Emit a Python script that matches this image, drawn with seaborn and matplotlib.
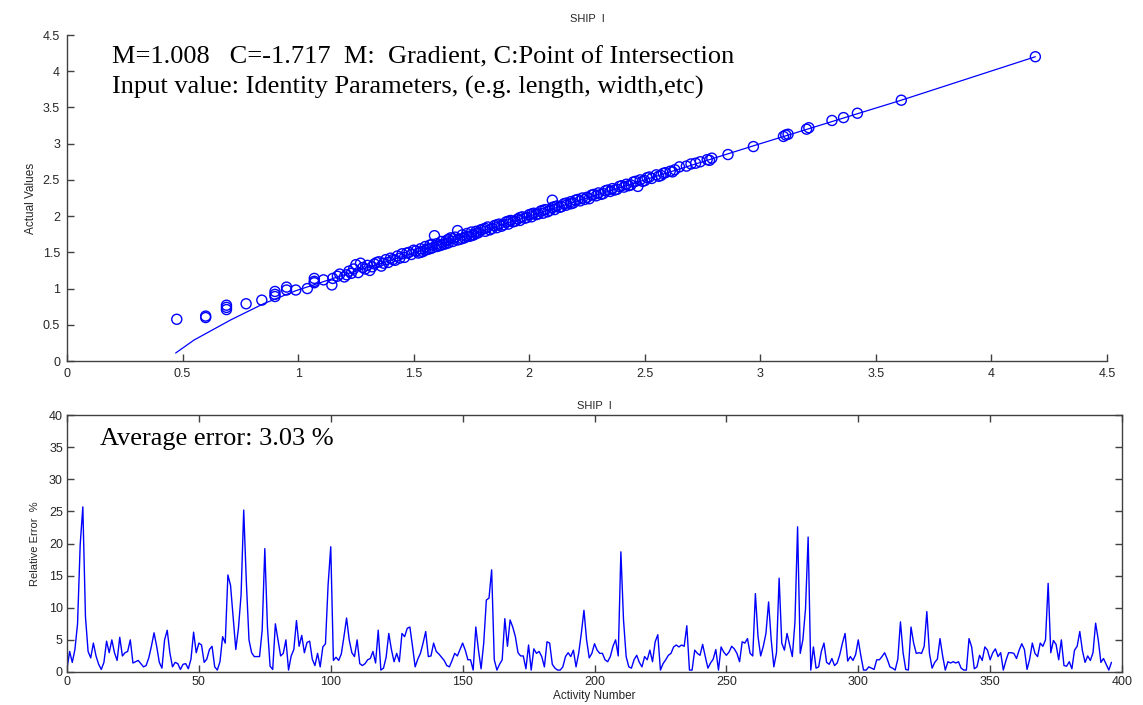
import numpy as np
import pandas as pd
import matplotlib
matplotlib.use("Agg")
import matplotlib.pyplot as plt
import seaborn as sns

# ---------------- data: top panel (predicted vs actual) ----------------
pred_vals = [0.475, 0.60, 0.60, 0.69, 0.69, 0.69, 0.775, 0.843, 0.90, 0.90, 0.90, 0.95, 0.95, 0.99,
             1.04, 1.07, 1.07, 1.07, 1.11, 1.146, 1.15, 1.17, 1.18, 1.20, 1.22, 1.24, 1.25, 1.26, 1.27,
             1.28, 1.30, 1.31, 1.33, 1.35, 1.36, 1.38, 1.39, 1.40, 1.42, 1.43, 1.45, 1.46, 1.48, 1.49,
             1.50, 1.52, 1.53, 1.54, 1.55, 1.56, 1.57, 1.58, 1.59, 1.60, 1.61, 1.62, 1.63, 1.64, 1.65,
             1.66, 1.67, 1.68, 1.69, 1.70, 1.71, 1.72, 1.73, 1.74, 1.75, 1.76, 1.77, 1.78, 1.80, 1.81,
             1.82, 1.83, 1.85, 1.86, 1.87, 1.88, 1.90, 1.91, 1.92, 1.93, 1.95, 1.96, 1.97, 1.98, 2.00,
             2.01, 2.02, 2.03, 2.05, 2.06, 2.07, 2.08, 2.10, 2.10, 2.11, 2.12, 2.14, 2.15, 2.16, 2.18,
             2.19, 2.20, 2.22, 2.23, 2.25, 2.26, 2.28, 2.29, 2.30, 2.32, 2.33, 2.35, 2.36, 2.38, 2.39,
             2.41, 2.42, 2.44, 2.45, 2.47, 2.48, 2.50, 2.51, 2.53, 2.55, 2.57, 2.59, 2.61, 2.63, 2.65,
             2.68, 2.70, 2.72, 2.77, 2.79, 2.86, 2.97, 3.10, 3.11, 3.12, 3.20, 3.21, 3.31, 3.36, 3.42,
             3.61, 4.19,
             1.21, 1.23, 1.29, 1.32, 1.34, 1.37, 1.41, 1.44, 1.47, 1.51, 1.53, 1.55, 1.57, 1.58, 1.60,
             1.62, 1.64, 1.65, 1.67, 1.69, 1.71, 1.73, 1.75, 1.77, 1.79, 1.81, 1.84, 1.86, 1.89, 1.91,
             1.94, 1.96, 1.99, 2.01, 2.04, 2.06, 2.09, 2.11, 2.13, 2.16, 2.18, 2.21, 2.24, 2.27, 2.31,
             2.34, 2.37, 2.40, 2.43, 2.46, 2.49, 2.52, 2.56, 2.58, 2.62, 2.74, 2.78]
actual_vals = [0.576, 0.62, 0.60, 0.77, 0.74, 0.71, 0.79, 0.84, 0.96, 0.92, 0.89, 1.02, 0.98, 0.98,
               1.00, 1.14, 1.10, 1.08, 1.12, 1.05, 1.14, 1.17, 1.20, 1.16, 1.24, 1.27, 1.33, 1.22, 1.35,
               1.29, 1.32, 1.25, 1.34, 1.37, 1.31, 1.40, 1.36, 1.42, 1.39, 1.45, 1.48, 1.43, 1.50, 1.47,
               1.53, 1.49, 1.55, 1.51, 1.58, 1.54, 1.60, 1.56, 1.73, 1.62, 1.59, 1.65, 1.61, 1.66, 1.63,
               1.70, 1.65, 1.71, 1.80, 1.68, 1.74, 1.70, 1.76, 1.72, 1.78, 1.74, 1.79, 1.77, 1.82, 1.79,
               1.85, 1.81, 1.87, 1.84, 1.89, 1.86, 1.92, 1.89, 1.94, 1.92, 1.96, 1.94, 1.99, 1.97, 2.02,
               1.99, 2.04, 2.02, 2.07, 2.04, 2.09, 2.06, 2.22, 2.12, 2.09, 2.14, 2.13, 2.17, 2.15, 2.20,
               2.18, 2.22, 2.21, 2.25, 2.26, 2.24, 2.30, 2.28, 2.32, 2.31, 2.35, 2.34, 2.38, 2.37, 2.41,
               2.40, 2.44, 2.43, 2.47, 2.41, 2.50, 2.49, 2.53, 2.52, 2.57, 2.56, 2.60, 2.62, 2.64, 2.68,
               2.69, 2.72, 2.73, 2.78, 2.80, 2.85, 2.96, 3.10, 3.12, 3.13, 3.20, 3.22, 3.32, 3.36, 3.42,
               3.60, 4.20,
               1.19, 1.21, 1.27, 1.30, 1.36, 1.35, 1.40, 1.42, 1.49, 1.52, 1.50, 1.53, 1.55, 1.61, 1.58,
               1.60, 1.62, 1.68, 1.69, 1.67, 1.69, 1.72, 1.73, 1.76, 1.81, 1.83, 1.83, 1.88, 1.88, 1.93,
               1.93, 1.98, 1.98, 2.03, 2.03, 2.08, 2.08, 2.13, 2.12, 2.18, 2.17, 2.23, 2.23, 2.29, 2.30,
               2.36, 2.36, 2.42, 2.42, 2.48, 2.48, 2.54, 2.55, 2.59, 2.61, 2.75, 2.77]

fit_x = [0.47, 0.55, 0.71, 0.85, 0.99, 1.2, 1.5, 2.0, 2.5, 3.0, 3.61, 4.19]
fit_y = [0.11, 0.29, 0.57, 0.79, 0.97, 1.19, 1.49, 2.0, 2.5, 3.0, 3.60, 4.20]

# ---------------- data: bottom panel (relative error per activity) ----------------
rel_error = [
    0.5, 3.2, 1.5, 3.5, 7.5, 19.8, 25.7, 8.6, 3.2, 2.2,
    4.5, 2.5, 1.2, 0.4, 1.5, 4.8, 3.0, 5.0, 3.0, 1.8,
    5.4, 2.5, 3.0, 3.2, 5.0, 1.4, 1.6, 1.8, 1.3, 0.8,
    1.0, 2.2, 4.0, 6.1, 4.0, 1.5, 0.6, 5.0, 6.5, 3.0,
    0.8, 1.5, 1.3, 0.4, 1.2, 1.3, 0.5, 2.0, 6.2, 3.0,
    4.5, 4.2, 1.5, 2.0, 3.5, 4.0, 0.8, 0.3, 1.6, 5.5,
    4.5, 15.1, 13.5, 8.5, 3.5, 6.8, 12.0, 25.2, 14.0, 5.0,
    3.0, 2.4, 2.4, 2.4, 6.5, 19.2, 7.0, 0.9, 0.4, 7.5,
    5.0, 2.5, 2.9, 5.0, 0.3, 2.5, 3.5, 8.0, 4.0, 5.7,
    3.0, 4.6, 4.8, 2.0, 1.0, 2.9, 0.8, 3.9, 4.4, 13.6,
    19.5, 1.8, 2.3, 1.8, 2.8, 5.5, 8.4, 5.0, 3.0, 2.4,
    5.0, 1.3, 1.0, 1.3, 1.9, 2.1, 3.2, 1.4, 6.5, 0.3,
    0.6, 2.3, 6.0, 3.5, 1.6, 2.9, 1.6, 6.0, 5.5, 6.8,
    7.0, 4.0, 0.8, 2.0, 2.9, 4.5, 6.3, 2.4, 2.5, 4.5,
    3.2, 2.8, 2.3, 1.8, 1.0, 0.8, 1.8, 2.9, 2.5, 3.5,
    4.5, 3.4, 1.9, 1.9, 0.3, 7.0, 3.4, 0.5, 4.5, 11.2,
    11.5, 15.9, 1.9, 0.3, 1.2, 1.9, 8.3, 4.0, 8.1, 7.0,
    5.5, 3.0, 2.5, 2.5, 0.5, 4.2, 0.3, 3.6, 2.9, 3.2,
    2.4, 0.8, 4.7, 4.5, 1.2, 0.6, 0.3, 0.3, 0.8, 2.4,
    3.0, 2.4, 3.4, 0.8, 2.9, 6.0, 9.6, 5.0, 2.2, 2.9,
    4.4, 3.4, 2.9, 2.9, 1.9, 1.6, 2.4, 4.0, 5.0, 2.5,
    18.7, 8.1, 2.4, 0.8, 0.6, 1.9, 2.6, 1.5, 0.8, 2.4,
    1.9, 3.4, 1.6, 4.7, 5.8, 0.3, 1.3, 1.9, 2.6, 2.9,
    3.9, 4.2, 3.9, 4.2, 4.0, 7.2, 0.3, 0.3, 3.4, 2.9,
    2.6, 4.3, 2.4, 0.6, 1.4, 2.0, 3.5, 0.3, 3.9, 3.1,
    2.6, 3.1, 4.0, 3.6, 2.9, 1.6, 4.7, 4.5, 5.2, 2.9,
    2.5, 12.2, 5.5, 2.5, 4.0, 6.0, 10.9, 5.0, 0.8, 3.0,
    14.6, 4.5, 3.4, 6.0, 4.2, 2.4, 7.8, 22.6, 2.9, 5.0,
    9.8, 21.0, 0.3, 3.9, 0.6, 0.8, 3.2, 4.5, 1.5, 1.2,
    2.1, 1.0, 1.4, 2.7, 4.5, 6.0, 1.7, 2.4, 1.8, 2.7,
    5.0, 2.5, 0.3, 0.3, 0.8, 0.6, 0.4, 1.9, 1.9, 2.4,
    3.0, 2.0, 0.8, 0.6, 0.3, 2.0, 7.8, 3.0, 0.4, 0.3,
    7.0, 4.5, 2.9, 3.0, 2.9, 4.0, 9.4, 2.9, 0.6, 1.5,
    2.0, 5.2, 2.5, 0.3, 1.6, 1.4, 1.6, 1.4, 1.6, 0.6,
    0.3, 0.3, 5.2, 3.9, 0.5, 0.8, 2.6, 1.8, 3.9, 3.4,
    1.9, 3.0, 3.6, 2.4, 3.0, 0.3, 1.8, 3.0, 3.0, 2.9,
    2.1, 3.4, 4.4, 3.5, 0.4, 2.0, 4.5, 2.9, 2.4, 4.5,
    4.0, 5.0, 13.8, 3.0, 4.9, 4.3, 1.9, 5.0, 1.0, 0.9,
    1.6, 0.5, 3.4, 4.0, 6.3, 3.3, 1.5, 2.5, 1.8, 3.0,
    7.6, 5.0, 1.5, 2.1, 1.2, 0.3, 1.5,
]
activity = list(range(len(rel_error)))

top_title = "SHIP  I"
bottom_title = "SHIP  I"
note_line1 = "M=1.008   C=-1.717  M:  Gradient, C:Point of Intersection"
note_line2 = "Input value: Identity Parameters, (e.g. length, width,etc)"
note_error = "Average error: 3.03 %"

# ---------------- plotting ----------------
sns.set_theme(style="white")
plt.rcParams["font.family"] = ["Liberation Sans", "DejaVu Sans"]

BLUE = "#0000ff"
SPINE = "#404040"
TXT = "#262626"
SERIF = ["Liberation Serif", "DejaVu Serif"]

fig = plt.figure(figsize=(11.43, 7.05), dpi=100)
ax1 = fig.add_axes([67 / 1143, 1 - 361 / 705, 1040 / 1143, 326 / 705])
ax2 = fig.add_axes([67 / 1143, 1 - 672 / 705, 1055 / 1143, 257 / 705])

scat_df = pd.DataFrame({"pred": pred_vals, "actual": actual_vals})
fit_df = pd.DataFrame({"x": fit_x, "y": fit_y})
err_df = pd.DataFrame({"n": activity, "err": rel_error})

sns.scatterplot(data=scat_df, x="pred", y="actual", ax=ax1, marker="o", s=52,
                facecolors="none", edgecolor=BLUE, linewidth=1.0, legend=False)
sns.lineplot(data=fit_df, x="x", y="y", ax=ax1, color=BLUE, linewidth=0.9,
             sort=False, estimator=None)

ax1.set_xlim(0, 4.5)
ax1.set_ylim(0, 4.5)
ax1.set_xticks(np.arange(0, 4.51, 0.5))
ax1.set_yticks(np.arange(0, 4.51, 0.5))
ax1.set_xticklabels(["0", "0.5", "1", "1.5", "2", "2.5", "3", "3.5", "4", "4.5"])
ax1.set_yticklabels(["0", "0.5", "1", "1.5", "2", "2.5", "3", "3.5", "4", "4.5"])
ax1.set_xlabel("")
ax1.set_ylabel("Actual Values", fontsize=8.5, color=TXT, labelpad=4)
ax1.set_title(top_title, fontsize=8, color=TXT, pad=9)
for s in ["top", "right"]:
    ax1.spines[s].set_visible(False)
for s in ["left", "bottom"]:
    ax1.spines[s].set_color(SPINE)
    ax1.spines[s].set_linewidth(1.0)
ax1.tick_params(direction="in", length=5, width=1, colors=SPINE, labelcolor=TXT,
                labelsize=9, bottom=True, left=True, pad=5)

ax1.text(0.0433, 0.914, note_line1, transform=ax1.transAxes, fontsize=19,
         family=SERIF, color="black", va="baseline")
ax1.text(0.0433, 0.819, note_line2, transform=ax1.transAxes, fontsize=19,
         family=SERIF, color="black", va="baseline")

sns.lineplot(data=err_df, x="n", y="err", ax=ax2, color=BLUE, linewidth=1.0,
             sort=False, estimator=None)
ax2.set_xlim(0, 400)
ax2.set_ylim(0, 40)
ax2.set_xticks(np.arange(0, 401, 50))
ax2.set_yticks(np.arange(0, 41, 5))
ax2.set_xlabel("Activity Number", fontsize=8.5, color=TXT, labelpad=1)
ax2.set_ylabel("Relative Error  %", fontsize=8, color=TXT, labelpad=6)
ax2.set_title(bottom_title, fontsize=8, color=TXT, pad=4)
for s in ["top", "right", "left", "bottom"]:
    ax2.spines[s].set_visible(True)
    ax2.spines[s].set_color(SPINE)
    ax2.spines[s].set_linewidth(1.0)
ax2.tick_params(direction="in", length=5, width=1, colors=SPINE, labelcolor=TXT,
                labelsize=9, bottom=True, left=True, top=True, right=True, pad=3)
ax2.text(0.0313, 0.883, note_error, transform=ax2.transAxes, fontsize=19,
         family=SERIF, color="black", va="baseline")

fig.savefig("out.png", dpi=100, facecolor="white")
